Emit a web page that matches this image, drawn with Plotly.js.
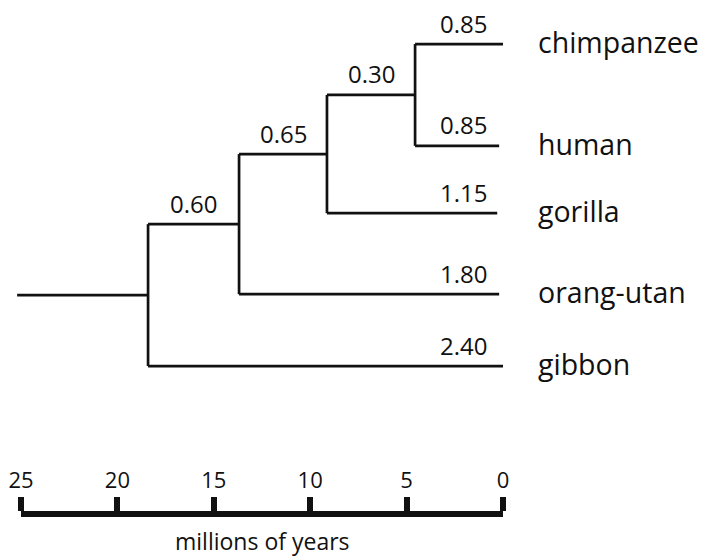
<!DOCTYPE html>
<html><head><meta charset="utf-8">
<script src="https://cdn.plot.ly/plotly-3.0.1.min.js"></script>
<style>html,body{margin:0;padding:0;background:#fff;} #chart{width:705px;height:557px;}</style>
</head><body><div id="chart"></div>
<script>
// ---- data ----
const taxa = ['chimpanzee', 'human', 'gorilla', 'orang-utan', 'gibbon'];
const tipRow = [0.87, 2.88, 4.21, 5.81, 7.23];          // vertical slot of each tip
const tipAge = [0, 0.2, 0.3, 0.2, 0];                    // where each tip branch ends (My ago)
const tipBranchLabel = ['0.85', '0.85', '1.15', '1.80', '2.40'];
// internal nodes, youngest first; children: 't#' = tip, 'n#' = node
const nodeChildren = [['t0', 't1'], ['n0', 't2'], ['n1', 't3'], ['n2', 't4']];
const nodeAge = [4.56, 9.13, 13.69, 18.41];              // My ago
const nodeBranchLabel = ['0.30', '0.65', '0.60', ''];
const rootAge = 25.2;
const scaleTicks = [25, 20, 15, 10, 5, 0];
const scaleTitle = 'millions of years';

// ---- layout constants ----
const W = 705, H = 557;
const barLeftPx = 21, barRightPx = 503;
const pxPerMy = (barRightPx - barLeftPx) / 25;
const xRange = [25 + barLeftPx / pxPerMy, 0 - (W - barRightPx) / pxPerMy];
const ink = '#111111';
const fam = '"Open Sans", "DejaVu Sans", sans-serif';

// ---- build tree geometry ----
const tipY = tipRow.slice();
const nodeY = [];
function yOf(id) { return id[0] === 't' ? tipY[+id.slice(1)] : nodeY[+id.slice(1)]; }
function ageOf(id) { return id[0] === 't' ? tipAge[+id.slice(1)] : nodeAge[+id.slice(1)]; }
nodeChildren.forEach((ch, i) => { nodeY[i] = (yOf(ch[0]) + yOf(ch[1])) / 2; });

const xs = [], ys = [];
function seg(x0, y0, x1, y1) { xs.push(x0, x1, null); ys.push(y0, y1, null); }
const parentAge = {};
nodeChildren.forEach((ch, i) => {
  seg(nodeAge[i], yOf(ch[0]), nodeAge[i], yOf(ch[1]));
  ch.forEach(c => { seg(nodeAge[i], yOf(c), ageOf(c), yOf(c)); parentAge[c] = nodeAge[i]; });
});
const topNode = nodeChildren.length - 1;
seg(rootAge, nodeY[topNode], nodeAge[topNode], nodeY[topNode]);
parentAge['n' + topNode] = rootAge;

const annotations = [];
// taxon names
taxa.forEach((t, i) => annotations.push({
  x: 0, y: tipY[i], xref: 'x', yref: 'y', text: t, showarrow: false,
  xanchor: 'left', yanchor: 'middle', xshift: 33, yshift: 2,
  font: {family: fam, size: 28.5, color: ink}
}));
// tip branch labels
tipBranchLabel.forEach((t, i) => annotations.push({
  x: 0, y: tipY[i], xref: 'x', yref: 'y', text: t, showarrow: false,
  xanchor: 'right', yanchor: 'middle', xshift: -14, yshift: 21,
  font: {family: fam, size: 24, color: ink}
}));
// internal branch labels
nodeBranchLabel.forEach((t, i) => {
  if (!t) return;
  const id = 'n' + i;
  annotations.push({
    x: (nodeAge[i] + parentAge[id]) / 2, y: nodeY[i], xref: 'x', yref: 'y', text: t, showarrow: false,
    xanchor: 'center', yanchor: 'middle', yshift: 21,
    font: {family: fam, size: 24, color: ink}
  });
});
// scale title
annotations.push({
  x: 12.5, y: 0, xref: 'x2', yref: 'paper', text: scaleTitle, showarrow: false,
  xanchor: 'center', yanchor: 'bottom', yshift: -2,
  font: {family: fam, size: 23, color: ink}
});

const traces = [
  {x: xs, y: ys, xaxis: 'x', yaxis: 'y', mode: 'lines', type: 'scatter',
   line: {color: ink, width: 2.7}, hoverinfo: 'skip', showlegend: false},
  {x: scaleTicks, y: scaleTicks.map(() => null), xaxis: 'x2', yaxis: 'y', mode: 'markers',
   type: 'scatter', showlegend: false, hoverinfo: 'skip'}
];

const layout = {
  width: W, height: H, margin: {l: 0, r: 0, t: 0, b: 0},
  paper_bgcolor: '#fff', plot_bgcolor: 'rgba(0,0,0,0)', showlegend: false,
  xaxis: {domain: [0, 1], range: xRange, visible: false, fixedrange: true},
  yaxis: {domain: [0, 1], range: [11, 0], visible: false, fixedrange: true},
  xaxis2: {
    domain: [barLeftPx / W, barRightPx / W], range: [25, 0], anchor: 'free', position: 0.077,
    side: 'top', showline: true, linewidth: 6, linecolor: ink,
    ticks: 'outside', ticklen: 14, tickwidth: 6, tickcolor: ink,
    tickmode: 'array', tickvals: scaleTicks, ticktext: scaleTicks.map(String),
    tickfont: {family: fam, size: 22, color: ink},
    showgrid: false, zeroline: false, fixedrange: true
  },
  annotations: annotations
};
Plotly.newPlot('chart', traces, layout, {displayModeBar: false, staticPlot: true});
</script></body></html>
